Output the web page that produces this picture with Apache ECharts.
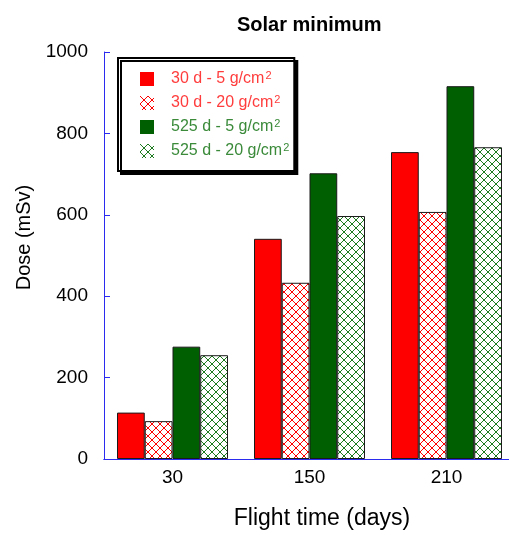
<!DOCTYPE html>
<html>
<head>
<meta charset="utf-8">
<script src="https://cdn.jsdelivr.net/npm/echarts@6/dist/echarts.min.js"></script>
<style>
html,body{margin:0;padding:0;background:#fff;overflow:hidden;width:509px;height:535px;}
#wrap{width:509px;height:535px;overflow:hidden;position:relative;}
#chart{width:518px;height:535px;position:absolute;left:0;top:0;}
</style>
</head>
<body>
<div id="wrap"><div id="chart"></div></div>
<script>
var categories = ['30', '150', '210'];
var seriesNames = ['30 d - 5 g/cm', '30 d - 20 g/cm', '525 d - 5 g/cm', '525 d - 20 g/cm'];
var s30d5 = [114, 541, 754];
var s30d20 = [93, 433, 607];
var s525d5 = [276, 702, 916];
var s525d20 = [255, 597, 766];
var yTicks = [0, 200, 400, 600, 800, 1000];

var FONT = 'Liberation Sans, Arial, sans-serif';
var RED = '#ff0000';
var GREEN = '#005f00';
var AXIS = '#2b2bf0';

function hatch(color) {
  var c = document.createElement('canvas');
  c.width = 8; c.height = 8;
  var ctx = c.getContext('2d');
  ctx.fillStyle = '#ffffff';
  ctx.fillRect(0, 0, 8, 8);
  ctx.strokeStyle = color;
  ctx.lineWidth = 1;
  ctx.beginPath();
  ctx.moveTo(0, 0); ctx.lineTo(8, 8);
  ctx.moveTo(8, 0); ctx.lineTo(0, 8);
  ctx.stroke();
  return { image: c, repeat: 'repeat' };
}

var chart = echarts.init(document.getElementById('chart'), null, { width: 518, height: 535 });
var barStyle = function (color) {
  return { color: color, borderColor: '#1a1a1a', borderWidth: 1 };
};
chart.setOption({
  animation: false,
  textStyle: { fontFamily: FONT },
  title: {
    text: 'Solar minimum',
    left: 232, top: 10,
    textStyle: { fontFamily: FONT, fontSize: 20, fontWeight: 'bold', color: '#000' }
  },
  legend: {
    orient: 'vertical',
    left: 118, top: 58,
    padding: [12, 5, 12, 22],
    icon: 'rect',
    itemWidth: 14, itemHeight: 14,
    itemGap: 7,
    backgroundColor: '#fff',
    borderColor: '#000', borderWidth: 2,
    shadowColor: '#000', shadowBlur: 0, shadowOffsetX: 3, shadowOffsetY: 3,
    itemStyle: { borderWidth: 0 },
    formatter: function (name) { return '{a|' + name + '}{s|2}'; },
    data: seriesNames.map(function (n, i) {
      var col = i < 2 ? '#ff3c3c' : '#3a8a3a';
      return {
        name: n,
        textStyle: {
          rich: {
            a: { fontFamily: FONT, fontSize: 16, color: col, lineHeight: 18, padding: [0, 0, 0, 12] },
            s: { fontFamily: FONT, fontSize: 11, color: col, lineHeight: 18, verticalAlign: 'top', padding: [0, 0, 0, 1] }
          }
        }
      };
    })
  },
  grid: { left: 104, width: 411, top: 52, height: 412.5 },
  xAxis: [{
    type: 'category',
    data: categories,
    position: 'bottom',
    name: 'Flight time (days)',
    nameLocation: 'middle',
    nameGap: 48,
    nameTextStyle: { fontFamily: FONT, fontSize: 23, color: '#000', padding: [0, 0, 0, 25] },
    axisLine: { lineStyle: { color: AXIS, width: 1 } },
    axisTick: { inside: true, length: 5, lineStyle: { color: AXIS } },
    axisLabel: { fontFamily: FONT, fontSize: 19, color: '#000', margin: 9 },
    splitLine: { show: false }
  }, {
    type: 'category',
    data: categories,
    position: 'top',
    axisLine: { lineStyle: { color: AXIS, width: 1 } },
    axisTick: { inside: true, length: 5, lineStyle: { color: AXIS } },
    axisLabel: { show: false }
  }],
  yAxis: [{
    type: 'value',
    min: 0, max: 1000, interval: 200,
    name: 'Dose (mSv)',
    nameLocation: 'middle',
    nameGap: 68,
    nameTextStyle: { fontFamily: FONT, fontSize: 20, color: '#000', padding: [0, 0, 0, 36] },
    axisLine: { show: true, lineStyle: { color: AXIS, width: 1 } },
    axisTick: { show: true, inside: true, length: 6, lineStyle: { color: AXIS } },
    axisLabel: {
      fontFamily: FONT, fontSize: 19, color: '#000', margin: 16,
      formatter: function (v) { return yTicks.indexOf(v) >= 0 ? String(v) : ''; }
    },
    splitLine: { show: false }
  }, {
    type: 'value',
    min: 0, max: 1000, interval: 200,
    position: 'right',
    axisLine: { show: true, lineStyle: { color: AXIS } },
    axisTick: { show: true, inside: true, length: 6, lineStyle: { color: AXIS } },
    axisLabel: { show: false },
    splitLine: { show: false }
  }],
  series: [
    { name: seriesNames[0], type: 'bar', data: s30d5, itemStyle: barStyle(RED), barGap: '0%', barCategoryGap: '19%' },
    { name: seriesNames[1], type: 'bar', data: s30d20, itemStyle: barStyle(hatch(RED)) },
    { name: seriesNames[2], type: 'bar', data: s525d5, itemStyle: barStyle(GREEN) },
    { name: seriesNames[3], type: 'bar', data: s525d20, itemStyle: barStyle(hatch('#1e7a1e')) }
  ]
});
</script>
</body>
</html>
